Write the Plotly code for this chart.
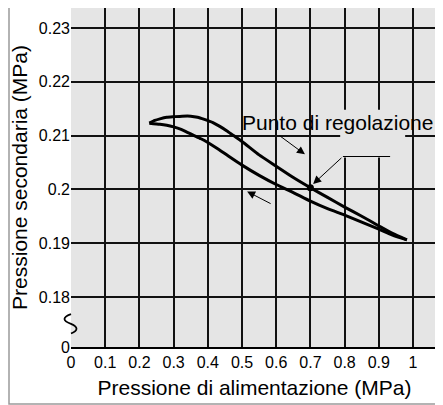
import plotly.graph_objects as go

# ---- data ----
upper_x = [0.229, 0.245, 0.26, 0.28, 0.30, 0.325, 0.35, 0.37, 0.39, 0.415, 0.435, 0.455, 0.475, 0.50, 0.55, 0.60, 0.65, 0.70, 0.75, 0.80, 0.85, 0.90, 0.94, 0.982]
upper_y = [0.2123, 0.2128, 0.2131, 0.2134, 0.2135, 0.2136, 0.2136, 0.2134, 0.2130, 0.2124, 0.2117, 0.2109, 0.2100, 0.2089, 0.2064, 0.2043, 0.2022, 0.2003, 0.1985, 0.1967, 0.1950, 0.1932, 0.1918, 0.1906]
lower_x = [0.229, 0.26, 0.28, 0.30, 0.32, 0.34, 0.36, 0.38, 0.40, 0.43, 0.46, 0.50, 0.55, 0.60, 0.65, 0.70, 0.75, 0.80, 0.85, 0.90, 0.94, 0.982]
lower_y = [0.2123, 0.2121, 0.2119, 0.2116, 0.2112, 0.2106, 0.2100, 0.2094, 0.2087, 0.2075, 0.2062, 0.2045, 0.2026, 0.2009, 0.1994, 0.1978, 0.1964, 0.1952, 0.1939, 0.1926, 0.1915, 0.1906]
set_point_x = [0.70]
set_point_y = [0.2003]

x_ticks = [0, 0.1, 0.2, 0.3, 0.4, 0.5, 0.6, 0.7, 0.8, 0.9, 1.0]
x_tick_text = ["0", "0.1", "0.2", "0.3", "0.4", "0.5", "0.6", "0.7", "0.8", "0.9", "1"]
y_ticks = [0.1707, 0.18, 0.19, 0.20, 0.21, 0.22, 0.23]
y_tick_text = ["0", "0.18", "0.19", "0.2", "0.21", "0.22", "0.23"]

label_text = "Punto di regolazione"
x_title = "Pressione di alimentazione (MPa)"
y_title = "Pressione secondaria (MPa)"

FONT = "Liberation Sans, Arial, Helvetica, sans-serif"
BG = "#e5e5e5"
OFF = 8  # default page margin of the html body
W, H = 443 - OFF, 405 - OFF
ML, MR, MT, MB = 71 - OFF, 5, 0, 58
PW, PH = W - ML - MR, H - MT - MB

def px_x(p):
    return (p - OFF - ML) / PW

def px_y(p):
    return (H - MB - (p - OFF)) / PH

def dx(p):
    return p / PW

fig = go.Figure()
fig.add_trace(go.Scatter(x=upper_x, y=upper_y, mode="lines",
                         line=dict(color="black", width=3, shape="spline", smoothing=0.5),
                         showlegend=False, hoverinfo="skip"))
fig.add_trace(go.Scatter(x=lower_x, y=lower_y, mode="lines",
                         line=dict(color="black", width=3, shape="spline", smoothing=0.5),
                         showlegend=False, hoverinfo="skip"))
fig.add_trace(go.Scatter(x=set_point_x, y=set_point_y, mode="markers",
                         marker=dict(color="black", size=7),
                         showlegend=False, hoverinfo="skip"))

arrow_common = dict(xref="x", yref="y", axref="x", ayref="y", showarrow=True,
                    arrowhead=2, arrowsize=1.6, arrowwidth=1, arrowcolor="black", text="")
# arrow toward upper branch
fig.add_annotation(x=0.684, y=0.2065, ax=0.605, ay=0.2102, **arrow_common)
# arrow toward lower branch
fig.add_annotation(x=0.515, y=0.1996, ax=0.588, ay=0.1972, **arrow_common)
# leader toward set point
fig.add_annotation(x=0.708, y=0.2010, ax=0.795, ay=0.2061, **arrow_common)

fig.add_annotation(x=0.778, y=0.2124, xref="x", yref="y", text=label_text, showarrow=False,
                   font=dict(family=FONT, size=21, color="black"))

y_b0, y_b1 = 0.1732, 0.1768
ym = (y_b0 + y_b1) / 2
shapes = [
    # mask of gridlines behind the label
    dict(type="rect", xref="x", yref="y", x0=0.787, x1=0.977, y0=0.2059, y1=0.2148,
         fillcolor=BG, line=dict(width=0), layer="between"),
    # horizontal leader
    dict(type="line", xref="x", yref="y", x0=0.795, x1=0.933, y0=0.2061, y1=0.2061,
         line=dict(color="black", width=1)),
    # outer frame
    dict(type="rect", xref="paper", yref="paper", x0=px_x(9), x1=px_x(440), y0=px_y(404), y1=px_y(4),
         line=dict(color="#9a9a9a", width=1.5), fillcolor="rgba(0,0,0,0)"),
    # axis break masks
    dict(type="rect", xref="paper", yref="y", x0=dx(-7), x1=0, y0=y_b0, y1=y_b1,
         fillcolor="white", line=dict(width=0), layer="above"),
    dict(type="rect", xref="paper", yref="y", x0=0, x1=dx(5), y0=y_b0, y1=y_b1,
         fillcolor=BG, line=dict(width=0), layer="above"),
    # axis break squiggle
    dict(type="path", xref="paper", yref="y", layer="above",
         path=(f"M 0,{y_b1} Q {dx(-13)},{(y_b1 + ym) / 2} 0,{ym} "
               f"Q {dx(11)},{(ym + y_b0) / 2} 0,{y_b0}"),
         line=dict(color="black", width=1.8)),
]
fig.update_layout(shapes=shapes)

fig.update_xaxes(range=[0, 1.073], tickvals=x_ticks, ticktext=x_tick_text,
                 showgrid=True, gridcolor="#111111", gridwidth=1.6, zeroline=False,
                 showline=True, linecolor="black", linewidth=2, ticks="", automargin=False,
                 tickfont=dict(family=FONT, size=16, color="black"),
                 title=dict(text=x_title, font=dict(family=FONT, size=21, color="black"), standoff=10))
fig.update_yaxes(range=[0.1707, 0.2337], tickvals=y_ticks, ticktext=y_tick_text,
                 showgrid=True, gridcolor="#111111", gridwidth=1.6, zeroline=False,
                 showline=False, ticks="", automargin=False,
                 tickfont=dict(family=FONT, size=16, color="black"),
                 title=dict(text=y_title, font=dict(family=FONT, size=21, color="black"), standoff=5))

fig.update_layout(width=W, height=H, margin=dict(l=ML, r=MR, t=MT, b=MB, autoexpand=False),
                  plot_bgcolor=BG, paper_bgcolor="white", showlegend=False)

fig.write_html("out.html")
